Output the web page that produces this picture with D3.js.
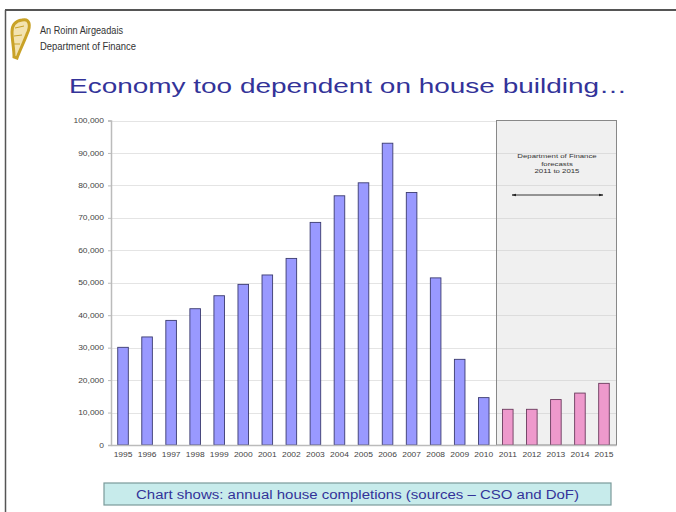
<!DOCTYPE html>
<html><head><meta charset="utf-8">
<script src="https://cdn.jsdelivr.net/npm/d3@7"></script>
<style>body{margin:0;background:#fff}svg{display:block}</style>
</head><body>
<svg id="c" width="676" height="512"></svg>
<script>
const years = ["1995","1996","1997","1998","1999","2000","2001","2002","2003","2004","2005","2006","2007","2008","2009","2010","2011","2012","2013","2014","2015"];
const completions = [30100,33300,38400,42000,46000,49500,52400,57500,68600,76800,80800,93000,77800,51500,26400,14600,11000,11000,14000,16000,19000];
const forecastYears = ["2011","2012","2013","2014","2015"];
const yTicks = [0,10000,20000,30000,40000,50000,60000,70000,80000,90000,100000];
const titleText = "Economy too dependent on house building…";
const captionText = "Chart shows: annual house completions (sources – CSO and DoF)";
const noteLines = ["Department of Finance","forecasts","2011 to 2015"];

const svg = d3.select("#c");
const F = "'Liberation Sans', Arial, sans-serif";
const stretch = (sel, k) => sel.each(function(){ const L=this.getComputedTextLength(); d3.select(this).attr("textLength",L*k).attr("lengthAdjust","spacingAndGlyphs"); });

// slide frame
svg.append("line").attr("x1",5).attr("x2",676).attr("y1",10).attr("y2",10).attr("stroke","#555").attr("stroke-width",2);
svg.append("line").attr("x1",5.5).attr("x2",5.5).attr("y1",10).attr("y2",512).attr("stroke","#555").attr("stroke-width",1.5);

// harp logo
const g0 = svg.append("g");
g0.append("path").attr("d","M22,20 C30,18 31,26 27,34 C24,42 20,50 17,58 L14,57 C14,48 12,40 12,32 C12,26 15,21 22,20 Z")
  .attr("fill","#f3e3b0").attr("stroke","#c9a227").attr("stroke-width",3);
g0.append("path").attr("d","M15,28 L24,26 M14,36 L22,35 M14,44 L20,44").attr("stroke","#c9a227").attr("stroke-width",1);
svg.append("text").attr("x",40).attr("y",34).attr("font-family","'Liberation Sans Narrow', 'Liberation Sans', sans-serif").attr("font-size",11.5).attr("fill","#333").attr("textLength",83).attr("lengthAdjust","spacingAndGlyphs").text("An Roinn Airgeadais");
svg.append("text").attr("x",40).attr("y",50).attr("font-family","'Liberation Sans Narrow', 'Liberation Sans', sans-serif").attr("font-size",11.5).attr("fill","#333").attr("textLength",96).attr("lengthAdjust","spacingAndGlyphs").text("Department of Finance");

// title
svg.append("text").attr("x",69).attr("y",93).attr("font-family",F).attr("font-size",21).attr("fill","#333399")
  .attr("textLength",558).attr("lengthAdjust","spacingAndGlyphs").text(titleText);

// plot
const x = d3.scaleBand().domain(years).range([111,616]).paddingInner(0.56).paddingOuter(0.28);
const y = d3.scaleLinear().domain([0,100000]).range([445,120.5]);

// forecast box
svg.append("rect").attr("x",496.5).attr("y",y(100000)).attr("width",616.5-496.5).attr("height",y(0)-y(100000))
  .attr("fill","#f0f0f0").attr("stroke","#888").attr("stroke-width",1);

// grid
svg.append("g").selectAll("line").data(yTicks.slice(1)).join("line")
  .attr("x1",111).attr("x2",496).attr("y1",d=>Math.round(y(d))+0.5).attr("y2",d=>Math.round(y(d))+0.5)
  .attr("stroke","#e4e4e4").attr("stroke-width",1);
svg.append("g").selectAll("line").data(yTicks.slice(1,-1)).join("line")
  .attr("x1",497).attr("x2",616).attr("y1",d=>Math.round(y(d))+0.5).attr("y2",d=>Math.round(y(d))+0.5)
  .attr("stroke","#dcdcdc").attr("stroke-width",1);

// bars
const isF = d => forecastYears.includes(d);
svg.append("g").selectAll("rect").data(years).join("rect")
  .attr("x",d=>x(d)).attr("width",x.bandwidth())
  .attr("y",(d,i)=>y(completions[i])).attr("height",(d,i)=>y(0)-y(completions[i]))
  .attr("fill",d=>isF(d)?"#ee99cc":"#9999ff")
  .attr("stroke",d=>isF(d)?"#6b3b5e":"#3b3b70").attr("stroke-width",0.9);

// axes
const ya = d3.axisLeft(y).tickValues(yTicks).tickFormat(d3.format(",")).tickSize(3).tickPadding(4);
const gy = svg.append("g").attr("transform","translate(111,0)").call(ya);
gy.select(".domain").attr("stroke","#bbb").attr("stroke-width",1.5);
gy.selectAll(".tick line").attr("stroke","#bbb");
gy.selectAll("text").attr("font-family",F).attr("font-size",6.5).attr("fill","#444").call(stretch,1.3);

const xa = d3.axisBottom(x).tickSize(0).tickPadding(7);
const gx = svg.append("g").attr("transform","translate(0,445)").call(xa);
gx.select(".domain").attr("stroke","#bbb").attr("stroke-width",1.5);
gx.selectAll("text").attr("font-family",F).attr("font-size",6.5).attr("fill","#444").call(stretch,1.3);

// annotation
svg.append("g").selectAll("text").data(noteLines).join("text")
  .attr("x",557).attr("y",(d,i)=>158+i*7.5).attr("text-anchor","middle")
  .attr("font-family",F).attr("font-size",6).attr("fill","#333").text(d=>d).call(stretch,1.3);
const defs = svg.append("defs");
defs.append("marker").attr("id","ah").attr("viewBox","0 0 10 10").attr("refX",9).attr("refY",5)
  .attr("markerWidth",5).attr("markerHeight",5).attr("orient","auto-start-reverse")
  .append("path").attr("d","M0,2 L10,5 L0,8 Z").attr("fill","#222");
svg.append("line").attr("x1",512).attr("x2",603).attr("y1",195).attr("y2",195)
  .attr("stroke","#222").attr("stroke-width",0.9).attr("marker-start","url(#ah)").attr("marker-end","url(#ah)");

// caption
svg.append("rect").attr("x",104).attr("y",483).attr("width",507).attr("height",22)
  .attr("fill","#c7ebeb").attr("stroke","#7a9a9a").attr("stroke-width",1.2);
svg.append("text").attr("x",136).attr("y",499).attr("font-family",F).attr("font-size",12.5).attr("fill","#333399")
  .attr("textLength",443).attr("lengthAdjust","spacingAndGlyphs").text(captionText);
</script>
</body></html>
